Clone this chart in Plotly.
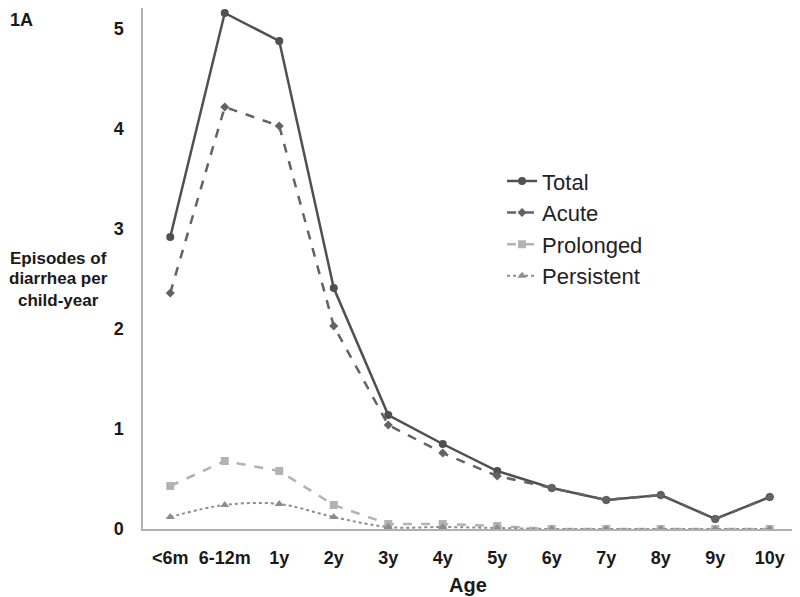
import plotly.graph_objects as go

ages = ["<6m", "6-12m", "1y", "2y", "3y", "4y", "5y", "6y", "7y", "8y", "9y", "10y"]
total = [2.92, 5.16, 4.88, 2.41, 1.14, 0.85, 0.58, 0.41, 0.29, 0.34, 0.10, 0.32]
acute = [2.36, 4.22, 4.03, 2.03, 1.04, 0.76, 0.53, 0.41, 0.29, 0.34, 0.10, 0.32]
prolonged = [0.43, 0.68, 0.58, 0.24, 0.05, 0.05, 0.03, 0.0, 0.0, 0.0, 0.0, 0.0]
persistent = [0.12, 0.24, 0.25, 0.12, 0.02, 0.02, 0.01, 0.0, 0.0, 0.0, 0.0, 0.0]

FONT = "Liberation Sans, Arial, sans-serif"

fig = go.Figure()
fig.add_trace(go.Scatter(x=ages, y=total, name="Total", mode="lines+markers",
                         line=dict(color="#505050", width=2.5),
                         marker=dict(symbol="circle", size=8, color="#505050")))
fig.add_trace(go.Scatter(x=ages, y=acute, name="Acute", mode="lines+markers",
                         line=dict(color="#636363", width=2.5, dash="dash"),
                         marker=dict(symbol="diamond", size=7, color="#636363")))
fig.add_trace(go.Scatter(x=ages, y=prolonged, name="Prolonged", mode="lines+markers",
                         line=dict(color="#b3b3b3", width=2.5, dash="dash"),
                         marker=dict(symbol="square", size=8, color="#b3b3b3")))
fig.add_trace(go.Scatter(x=ages, y=persistent, name="Persistent", mode="lines+markers",
                         line=dict(color="#8c8c8c", width=2, dash="dot", shape="spline"),
                         marker=dict(symbol="triangle-up", size=8, color="#8c8c8c")))

fig.update_layout(
    width=792, height=589,
    margin=dict(l=135, r=3, t=0, b=68),
    plot_bgcolor="white", paper_bgcolor="white",
    font=dict(family=FONT, color="#1a1a1a"),
    showlegend=True,
    legend=dict(x=0.549, y=0.708, xanchor="left", yanchor="top",
                font=dict(size=22, color="#222222"),
                tracegroupgap=0,
                bgcolor="rgba(0,0,0,0)", itemwidth=30),
    xaxis=dict(type="category", range=[-0.5, 11.5], showline=True,
               linecolor="#b0b0b0", linewidth=1.5,
               showgrid=False, ticks="", ticklabelstandoff=12,
               tickfont=dict(size=18, weight="bold")),
    yaxis=dict(range=[0, 5.21], showline=True, linecolor="#b0b0b0", linewidth=1.5,
               showgrid=False, zeroline=False, ticks="", tickvals=[0, 1, 2, 3, 4, 5],
               ticklabelstandoff=14,
               tickfont=dict(size=18, weight="bold")),
)

for txt, yy in [("Episodes of", 0.520), ("diarrhea per", 0.480), ("child-year", 0.4395)]:
    fig.add_annotation(text="<b>" + txt + "</b>", xref="paper", yref="paper",
                       x=-0.1295, y=yy, xanchor="center", yanchor="middle",
                       showarrow=False, font=dict(size=17, color="#1a1a1a"))

fig.add_annotation(text="<b>Age</b>", xref="paper", yref="paper",
                   x=0.497, y=-0.1075, xanchor="center", yanchor="middle",
                   showarrow=False, font=dict(size=20, color="#1a1a1a"))
fig.add_annotation(text="<b>1A</b>", xref="paper", yref="paper",
                   x=-0.206, y=1.0, xanchor="left", yanchor="top", showarrow=False,
                   font=dict(size=18, color="#1a1a1a"))

fig.write_html("out.html")
